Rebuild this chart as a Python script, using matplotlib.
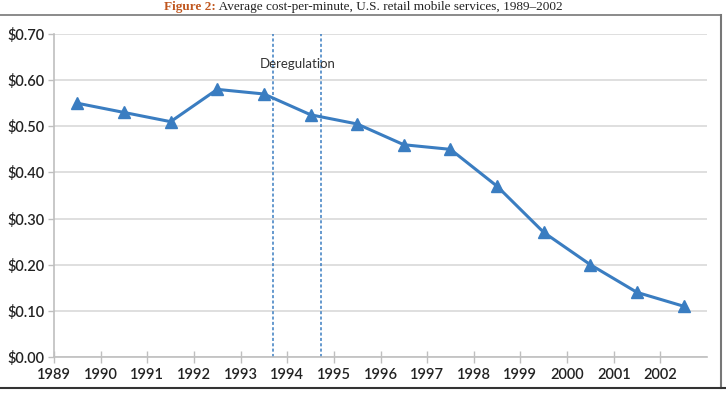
import matplotlib
matplotlib.use("Agg")
from matplotlib import pyplot as plt
from matplotlib.lines import Line2D
import numpy as np

# data
years = [1989.5, 1990.5, 1991.5, 1992.5, 1993.5, 1994.5, 1995.5,
         1996.5, 1997.5, 1998.5, 1999.5, 2000.5, 2001.5, 2002.5]
cost = [0.55, 0.53, 0.51, 0.58, 0.57, 0.525, 0.505,
        0.46, 0.45, 0.37, 0.27, 0.20, 0.14, 0.11]
dereg_lines = [1993.7, 1994.72]
xticks = list(range(1989, 2003))
yticks = [0.0, 0.1, 0.2, 0.3, 0.4, 0.5, 0.6, 0.7]
title_a = 'Figure 2:'
title_b = ' Average cost-per-minute, U.S. retail mobile services, 1989\u20132002'

W, H = 726, 396
blue = '#3A7DC1'
plt.rcParams['font.family'] = ['Lato', 'DejaVu Sans']

fig = plt.figure(figsize=(W / 100, H / 100), dpi=100)
ax = fig.add_axes([54 / W, 1 - 357 / H, (707 - 54) / W, (357 - 34) / H])

ax.plot(years, cost, color=blue, lw=2.2, marker='^', ms=8.5,
        markerfacecolor=blue, markeredgecolor=blue, zorder=3)
for xv in dereg_lines:
    ax.axvline(xv, color=blue, lw=1.1, ls=(0, (2, 1.5)), zorder=2)
ax.text(1994.22, 0.635, 'Deregulation', ha='center', va='center',
        fontsize=9.5, color='#333333')

ax.set_xlim(1989, 2003)
ax.set_ylim(0, 0.70)
ax.set_xticks(xticks)
ax.set_xticklabels([str(y) for y in xticks], fontweight='semibold')
ax.set_yticks(yticks)
ax.set_yticklabels(['$%.2f' % v for v in yticks], fontweight='semibold')
ax.yaxis.grid(True, color='#D9D9D9', lw=1.2)
ax.set_axisbelow(True)
for s in ['top', 'right']:
    ax.spines[s].set_visible(False)
for s in ['left', 'bottom']:
    ax.spines[s].set_color('#BFBFBF')
    ax.spines[s].set_linewidth(1.2)
ax.tick_params(axis='x', direction='inout', length=8, width=1, color='#BFBFBF',
               labelsize=10.5, labelcolor='#222222', pad=4)
ax.tick_params(axis='y', direction='out', length=4, width=1, color='#BFBFBF',
               labelsize=10.5, labelcolor='#222222', pad=3)

# outer frame of the original figure box
fig.add_artist(Line2D([0, 721 / W], [1 - 15 / H, 1 - 15 / H], color='#777777', lw=1.2))
fig.add_artist(Line2D([721 / W, 721 / W], [1 - 15 / H, 1 - 388 / H], color='#777777', lw=1.5))
fig.add_artist(Line2D([0, 1], [1 - 388 / H, 1 - 388 / H], color='#333333', lw=1.5))

# title: orange label followed by plain text, centred as one line
serif = ['Liberation Serif', 'DejaVu Serif']
ty = 1 - 7 / H
ta = fig.text(0, ty, title_a, ha='left', va='center', fontsize=9.5,
              color='#C0561E', fontweight='bold', family=serif)
tb = fig.text(0, ty, title_b, ha='left', va='center', fontsize=9.5,
              color='#222222', family=serif)
r = fig.canvas.get_renderer()
wa = ta.get_window_extent(r).width
wb = tb.get_window_extent(r).width
x0 = (W - wa - wb) / 2
ta.set_x(x0 / W)
tb.set_x((x0 + wa) / W)

fig.savefig('out.png', dpi=100)
